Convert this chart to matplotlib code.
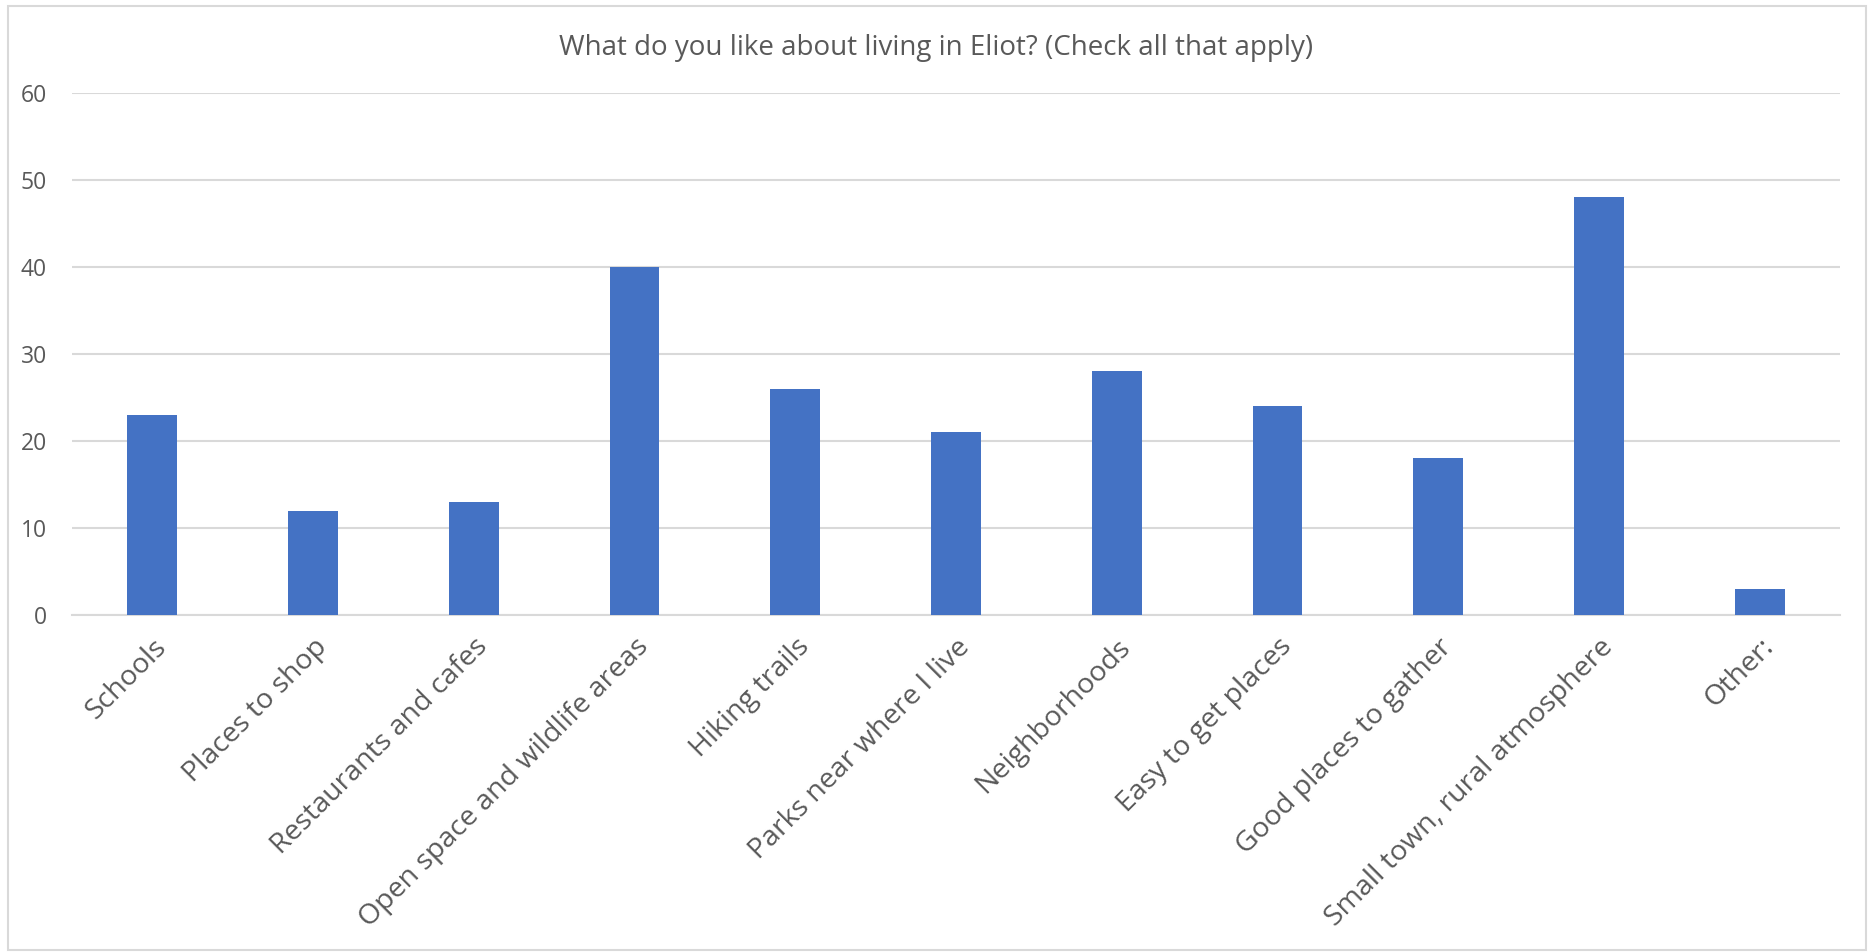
import matplotlib.pyplot as plt
from matplotlib.patches import Rectangle

plt.rcParams['font.family'] = ['Open Sans', 'DejaVu Sans']

categories = ['Schools', 'Places to shop', 'Restaurants and cafes', 'Open space and wildlife areas',
              'Hiking trails', 'Parks near where I live', 'Neighborhoods', 'Easy to get places',
              'Good places to gather', 'Small town, rural atmosphere', 'Other:']
counts = [23, 12, 13, 40, 26, 21, 28, 24, 18, 48, 3]
yticks = [0, 10, 20, 30, 40, 50, 60]

W, H = 1873, 952
fig = plt.figure(figsize=(W / 100, H / 100), dpi=100)
ax = fig.add_axes([72 / W, (H - 615) / H, (1840 - 72) / W, (615 - 93) / H])

ax.bar(range(len(categories)), counts, width=0.31, color='#4472C4', zorder=3)
ax.set_xlim(-0.5, len(categories) - 0.5)
ax.set_ylim(0, 60)
ax.set_yticks(yticks)
ax.grid(axis='y', color='#d9d9d9', linewidth=1.5, zorder=0)
for s in ['top', 'right', 'left']:
    ax.spines[s].set_visible(False)
ax.spines['bottom'].set_color('#d9d9d9')
ax.spines['bottom'].set_linewidth(1.5)
ax.tick_params(axis='both', length=0, colors='#595959')
ax.tick_params(axis='y', labelsize=16.5, pad=18)
ax.set_xticks(range(len(categories)))
ax.set_xticklabels(categories, rotation=45, ha='right', rotation_mode='anchor', fontsize=20.5)
ax.tick_params(axis='x', pad=13)

fig.text(0.5, (H - 48) / H, 'What do you like about living in Eliot? (Check all that apply)',
         ha='center', va='center', fontsize=20, color='#595959')

fig.patches.append(Rectangle((8 / W, 2 / H), (1866 - 8) / W, (H - 8) / H, transform=fig.transFigure,
                             fill=False, edgecolor='#d9d9d9', linewidth=1.5))

fig.savefig('out.png', dpi=100)
